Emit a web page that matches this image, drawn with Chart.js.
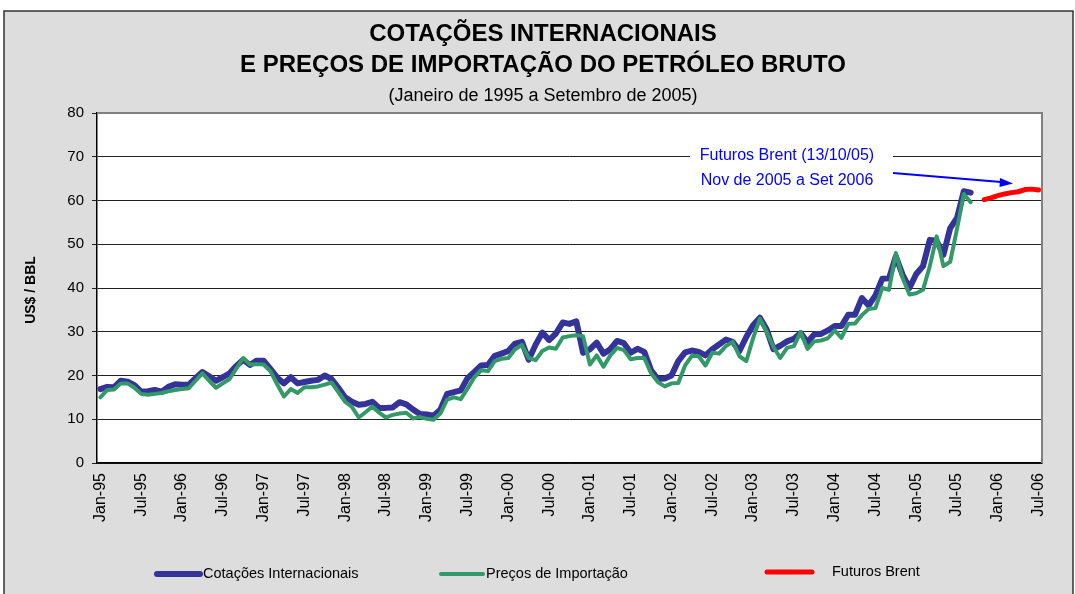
<!DOCTYPE html>
<html>
<head>
<meta charset="utf-8">
<script src="https://cdn.jsdelivr.net/npm/chart.js@4.4.0/dist/chart.umd.min.js"></script>
<style>
html, body { margin: 0; padding: 0; background: #fff; }
</style>
</head>
<body>
<canvas id="myChart" width="1075" height="594"></canvas>
<script>
// Monthly values (US$/BBL), Jan-95 .. Sep-05
var cotacoes = [
	16.9, 17.4, 17.3, 18.8, 18.6, 17.8, 16.3, 16.4, 16.7, 16.3, 17.4, 18.0, // 1995
	17.9, 17.9, 19.4, 20.8, 19.8, 18.8, 19.6, 20.5, 22.2, 23.6, 22.4, 23.4, // 1996
	23.4, 21.5, 19.5, 18.2, 19.6, 18.2, 18.5, 18.8, 19.0, 20.0, 19.2, 17.2, // 1997
	15.0, 14.0, 13.3, 13.5, 14.0, 12.6, 12.6, 12.7, 13.9, 13.4, 12.2, 11.2, // 1998
	11.1, 10.8, 12.2, 15.8, 16.2, 16.6, 19.4, 20.8, 22.3, 22.4, 24.5, 25.0, // 1999
	25.6, 27.3, 27.7, 23.6, 27.0, 29.8, 28.1, 29.6, 32.1, 31.8, 32.4, 25.2, // 2000
	26.0, 27.5, 25.0, 26.0, 27.9, 27.4, 25.2, 26.1, 25.4, 21.2, 19.2, 19.3, // 2001
	20.0, 23.3, 25.3, 25.7, 25.4, 24.6, 26.0, 27.1, 28.2, 27.7, 25.6, 28.8, // 2002
	31.5, 33.2, 30.5, 26.0, 26.8, 27.8, 28.4, 29.7, 27.6, 29.4, 29.5, 30.3, // 2003
	31.3, 31.3, 33.9, 33.9, 37.7, 36.0, 38.3, 42.1, 42.2, 47.2, 43.0, 40.0, // 2004
	43.2, 45.0, 51.0, 50.8, 47.6, 53.7, 56.0, 62.1, 61.8                    // 2005
];
var importacao = [
	15.0, 16.7, 16.8, 18.2, 18.2, 17.2, 15.8, 15.6, 15.8, 16.0, 16.4, 16.7, // 1995
	16.9, 17.1, 18.8, 20.5, 18.8, 17.2, 18.2, 19.2, 21.6, 24.0, 22.5, 22.6, // 1996
	22.5, 21.0, 18.0, 15.2, 16.9, 16.0, 17.3, 17.3, 17.5, 17.9, 18.4, 16.2, // 1997
	14.0, 12.8, 10.4, 11.6, 12.9, 11.5, 10.4, 11.0, 11.3, 11.5, 10.2, 10.5, // 1998
	10.1,  9.9, 11.3, 14.5, 15.0, 14.6, 17.0, 19.6, 21.2, 21.0, 23.3, 23.8, // 1999
	24.0, 26.0, 27.0, 24.0, 23.5, 25.6, 26.4, 26.1, 28.7, 29.0, 29.2, 29.0, // 2000
	22.5, 24.6, 22.0, 24.6, 26.3, 25.8, 23.7, 24.0, 24.0, 20.5, 18.5, 17.5, // 2001
	18.2, 18.3, 22.3, 24.5, 24.4, 22.3, 25.2, 25.0, 26.7, 27.7, 24.4, 23.3, // 2002
	28.5, 33.0, 30.0, 26.5, 24.0, 26.3, 26.7, 29.9, 26.1, 27.8, 28.0, 28.5, // 2003
	30.3, 28.6, 31.8, 31.9, 33.8, 35.2, 35.4, 40.0, 39.6, 48.0, 42.3, 38.5, // 2004
	38.8, 39.6, 45.0, 51.8, 45.0, 46.0, 53.5, 61.5, 59.6                    // 2005
];
// Futuros Brent, Nov-05 .. Jul-06 (cut at the end of the axis)
var futurosBrent = [60.2, 60.6, 61.1, 61.5, 61.8, 62.0, 62.5, 62.6, 62.4];

var monthNames = ['Jan', 'Feb', 'Mar', 'Apr', 'May', 'Jun', 'Jul', 'Aug', 'Sep', 'Oct', 'Nov', 'Dec'];
var years = ['95', '96', '97', '98', '99', '00', '01', '02', '03', '04', '05', '06'];
var yTicks = [0, 10, 20, 30, 40, 50, 60, 70, 80];

var titulo = ['COTAÇÕES INTERNACIONAIS', 'E PREÇOS DE IMPORTAÇÃO DO PETRÓLEO BRUTO'];
var subtitulo = '(Janeiro de 1995 a Setembro de 2005)';
var nota = ['Futuros Brent (13/10/05)', 'Nov de 2005 a Set 2006'];
var FONT = '"Liberation Sans", Arial, sans-serif';

// categorias mensais Jan-95 .. Jul-06
var labels = [];
years.forEach(function(y) {
	monthNames.forEach(function(m) { labels.push(m + '-' + y); });
});
labels = labels.slice(0, labels.indexOf('Jul-06') + 1);

function pad(arr, start) {
	var out = [];
	for (var i = 0; i < labels.length; i++) {
		var k = i - start;
		out.push(k >= 0 && k < arr.length ? arr[k] : null);
	}
	return out;
}

var datasets = [
	{ label: 'Preços de Importação', data: pad(importacao, 0), borderColor: '#339966', borderWidth: 4, order: 0 },
	{ label: 'Cotações Internacionais', data: pad(cotacoes, 0), borderColor: '#333399', borderWidth: 6, order: 1 },
	{ label: 'Futuros Brent', data: pad(futurosBrent, labels.indexOf('Nov-05')), borderColor: '#FF0000', borderWidth: 5, order: 2 }
];
datasets.forEach(function(d) {
	d.pointRadius = 0;
	d.tension = 0;
	d.fill = false;
	d.borderJoinStyle = 'round';
	d.borderCapStyle = 'round';
	d.spanGaps = false;
});

var decor = {
	id: 'decor',
	beforeDraw: function(chart) {
		var c = chart.ctx, a = chart.chartArea;
		c.save();
		c.fillStyle = '#fff';
		c.fillRect(0, 0, chart.width, chart.height);
		c.fillStyle = '#DDDDDD';
		c.fillRect(4, 11, 1069, 590);
		c.strokeStyle = '#333';
		c.lineWidth = 1.5;
		c.strokeRect(4, 11, 1069, 590);
		c.fillStyle = '#fff';
		c.fillRect(a.left, a.top, a.right - a.left, a.bottom - a.top);
		c.restore();
	},
	beforeDatasetsDraw: function(chart) {
		var c = chart.ctx, a = chart.chartArea;
		c.save();
		c.strokeStyle = '#808080';
		c.lineWidth = 2;
		c.beginPath();
		c.moveTo(a.left, a.top);
		c.lineTo(a.right, a.top);
		c.lineTo(a.right, a.bottom);
		c.stroke();
		// caixa da nota esconde a grelha
		c.fillStyle = '#fff';
		c.fillRect(690, 142, 203, 52);
		c.restore();
	},
	afterDraw: function(chart) {
		var c = chart.ctx;
		c.save();
		c.fillStyle = '#000';
		c.textAlign = 'center';
		c.textBaseline = 'middle';
		c.font = 'bold 24px ' + FONT;
		c.fillText(titulo[0], 543, 34);
		c.fillText(titulo[1], 543, 65);
		c.font = '18px ' + FONT;
		c.fillText(subtitulo, 543, 96);

		// eixo y
		c.save();
		c.translate(31, 290);
		c.rotate(-Math.PI / 2);
		c.font = 'bold 14px ' + FONT;
		c.fillText('US$ / BBL', 0, 0);
		c.restore();

		// nota Futuros Brent
		c.fillStyle = '#0000FF';
		c.font = '16px ' + FONT;
		c.fillText(nota[0], 787, 156);
		c.fillText(nota[1], 787, 181);
		c.strokeStyle = '#0000FF';
		c.lineWidth = 2;
		c.beginPath();
		c.moveTo(893, 173);
		c.lineTo(1001, 182);
		c.stroke();
		c.beginPath();
		c.moveTo(1013, 183.5);
		c.lineTo(1000, 178);
		c.lineTo(999.5, 187);
		c.closePath();
		c.fill();

		// legenda
		var items = [
			{ ds: 1, x0: 157, x1: 200, tx: 203, y: 573 },
			{ ds: 0, x0: 441, x1: 483, tx: 486, y: 573 },
			{ ds: 2, x0: 767, x1: 812, tx: 832, y: 571 }
		];
		c.font = '14.5px ' + FONT;
		c.textAlign = 'left';
		c.fillStyle = '#000';
		items.forEach(function(it) {
			var d = chart.data.datasets[it.ds];
			c.strokeStyle = d.borderColor;
			c.lineWidth = d.borderWidth;
			c.lineCap = 'round';
			c.beginPath();
			c.moveTo(it.x0, it.y + 1);
			c.lineTo(it.x1, it.y + 1);
			c.stroke();
			c.fillText(d.label, it.tx, it.y + 1);
		});
		c.restore();
	}
};

var ctx = document.getElementById('myChart').getContext('2d');
var myChart = new Chart(ctx, {
	type: 'line',
	data: { labels: labels, datasets: datasets },
	plugins: [decor],
	options: {
		responsive: false,
		animation: false,
		layout: { padding: { top: 113, right: 33, bottom: 61, left: 0 } },
		plugins: { legend: { display: false }, tooltip: { enabled: false }, title: { display: false } },
		scales: {
			x: {
				offset: true,
				grid: { display: false },
				border: { color: '#000', width: 1.5 },
				afterFit: function(s) { s.height = 70; },
				ticks: {
					autoSkip: false,
					minRotation: 90,
					maxRotation: 90,
					padding: 2,
					color: '#000',
					font: { family: FONT, size: 16 },
					callback: function(v, i) { return i % 6 === 0 ? labels[i] : ''; }
				}
			},
			y: {
				min: yTicks[0],
				max: yTicks[yTicks.length - 1],
				afterFit: function(s) { s.width = 97; },
				afterBuildTicks: function(s) { s.ticks = yTicks.map(function(v) { return { value: v }; }); },
				grid: { color: '#222', lineWidth: 1, tickLength: 5 },
				border: { color: '#000', width: 1.5 },
				ticks: { color: '#000', padding: 8, font: { family: FONT, size: 15 } }
			}
		}
	}
});
</script>
</body>
</html>
